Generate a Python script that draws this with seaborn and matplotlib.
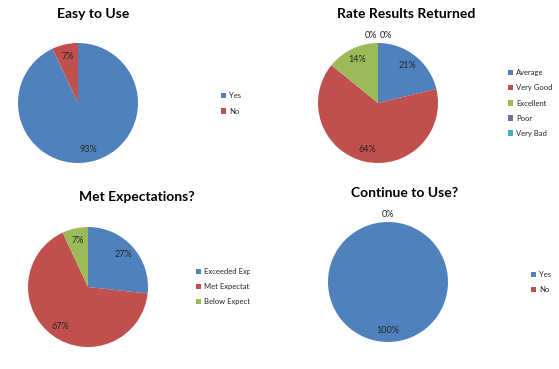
import numpy as np
import matplotlib
matplotlib.use('Agg')
import matplotlib.pyplot as plt
from matplotlib.transforms import Bbox
import seaborn as sns

# Данные
easy_labels = ['Yes', 'No']
easy_values = [93, 7]

rate_labels = ['Average', 'Very Good', 'Excellent', 'Poor', 'Very Bad']
rate_values = [21, 64, 14, 0, 0]

met_labels = ['Exceeded Expectations', 'Met Expectations', 'Below Expectations']
met_values = [27, 67, 7]

cont_labels = ['Yes', 'No']
cont_values = [100, 0]

# Стиль
sns.set_theme(style='white')
plt.rcParams['font.family'] = ['Lato', 'DejaVu Sans']
PALETTE = sns.color_palette(['#4F81BD', '#C0504D', '#9BBB59', '#8064A2', '#4BACC6'])

W, H = 559, 369
fig = plt.figure(figsize=(W / 100, H / 100), dpi=100)
fig.patch.set_facecolor('white')


def fx(px):
    return px / W


def fy(py):
    return 1 - py / H


def draw_pie(values, labels, title, center, title_pos, legend_pos, clip_x=None):
    cx, cy = center
    r = 60
    ax = fig.add_axes([fx(cx - r), fy(cy + r), 2 * r / W, 2 * r / H])
    wedges, _ = ax.pie(values, colors=PALETTE[:len(values)], startangle=90,
                       counterclock=False, radius=1,
                       wedgeprops=dict(linewidth=0))
    ax.set_xlim(-1, 1)
    ax.set_ylim(-1, 1)
    ax.set_aspect('equal')
    ax.axis('off')

    # подписи процентов
    zeros = [i for i, v in enumerate(values) if v == 0]
    for i, (w, v) in enumerate(zip(wedges, values)):
        ang = np.deg2rad((w.theta1 + w.theta2) / 2)
        dist = 0.8 if v > 0 else 1.13
        x, y = dist * np.cos(ang), dist * np.sin(ang)
        if v == 0 and len(zeros) > 1:
            x += -0.11 if zeros.index(i) == 0 else 0.13
        ax.text(x, y, f'{v}%', ha='center', va='center', fontsize=6.5,
                color='#262626')

    fig.text(fx(title_pos[0]), fy(title_pos[1]), title, ha='center',
             va='baseline', fontsize=10, fontweight='bold', color='black')

    leg = ax.legend(wedges, labels, loc='center left',
                    bbox_to_anchor=(fx(legend_pos[0]), fy(legend_pos[1])),
                    bbox_transform=fig.transFigure, frameon=False,
                    fontsize=5.5, handlelength=0.7, handleheight=0.7,
                    handletextpad=0.4, labelspacing=1.05,
                    borderpad=0, borderaxespad=0)
    for t in leg.get_texts():
        t.set_color('#262626')
        if clip_x is not None:
            t.set_clip_box(Bbox.from_extents(0, 0, clip_x, H))
            t.set_clip_on(True)


draw_pie(easy_values, easy_labels, 'Easy to Use', (78, 103), (93, 18), (221, 103.5))
draw_pie(rate_values, rate_labels, 'Rate Results Returned', (378, 103), (406, 18), (508, 103))
draw_pie(met_values, met_labels, 'Met Expectations?', (88, 287), (137, 201), (196, 286.5),
         clip_x=250)
draw_pie(cont_values, cont_labels, 'Continue to Use?', (388, 282), (405, 197), (531, 282))

plt.savefig('out.png', dpi=100)
plt.close()
